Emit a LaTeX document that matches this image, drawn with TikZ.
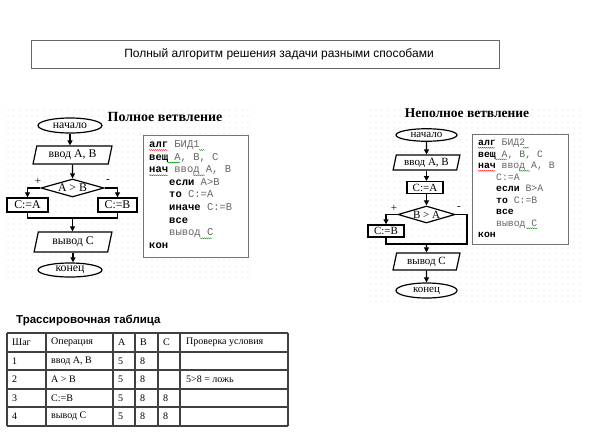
\documentclass[tikz,border=0pt]{standalone}
\usepackage{fontspec}
\setmainfont{Liberation Serif}
\setsansfont{Liberation Sans}
\setmonofont{Liberation Mono}
\usetikzlibrary{shapes.geometric,arrows.meta,decorations.pathmorphing}
\newcommand{\kwd}[1]{\textbf{#1}}
\newcommand{\grt}[1]{\textcolor{black!60}{#1}}
\begin{document}
\begin{tikzpicture}[x=1pt,y=-1pt,
  fl/.style={line width=1.1pt},
  arr/.style={line width=1.1pt,-{Triangle[length=5pt,width=5pt]}},
  term/.style={ellipse,draw,line width=1.2pt,fill=white,inner sep=0pt},
  io/.style={trapezium,trapezium left angle=76,trapezium right angle=104,trapezium stretches=true,draw,line width=1.2pt,fill=white,inner sep=0pt},
  proc/.style={rectangle,draw,line width=1.4pt,fill=white,inner sep=0pt},
  cond/.style={diamond,shape aspect=3.5,draw,line width=1.2pt,fill=white,inner sep=0pt},
  fc1/.style={font=\fontsize{11.8}{13}\selectfont},
  fc2/.style={font=\fontsize{11}{12}\selectfont},
  sign/.style={font=\fontsize{11}{12}\selectfont,inner sep=0pt},
  codebox/.style={rectangle,draw=black!55,line width=0.8pt,fill=white,inner sep=0pt},
  codeA/.style={anchor=base west,inner sep=0pt,font=\ttfamily\fontsize{10.5}{12}\selectfont},
  codeB/.style={anchor=base west,inner sep=0pt,font=\ttfamily\fontsize{9.8}{11}\selectfont},
  sq/.style={decorate,decoration={snake,amplitude=0.5pt,segment length=2pt},line width=0.4pt},
  tline/.style={line width=1.3pt,draw=black!75},
  tcell/.style={anchor=west,inner sep=0pt,font=\fontsize{10}{12}\selectfont},
  dotc/.style={fill=black!40}
]
\useasboundingbox (0,0) rectangle (593,445);
\fill[white] (0,0) rectangle (593,445);

% title
\node (titlebox) [rectangle,draw=black!60,line width=0.8pt,minimum width=468pt,minimum height=28pt,inner sep=0pt] at (265,54) {};
\node (title) [inner sep=0pt,font=\sffamily\fontsize{12}{14}\selectfont] at (279,54) {Полный алгоритм решения задачи разными способами};

% dotted backgrounds
\foreach \xx in {8,14,...,248} \foreach \yy in {110,116,...,282} \fill[dotc] (\xx,\yy) circle (0.45pt);
\foreach \xx in {370,376,...,582} \foreach \yy in {110,116,...,302} \fill[dotc] (\xx,\yy) circle (0.45pt);

% ---------- left diagram ----------
\node (h1) [font=\bfseries\fontsize{14}{16}\selectfont,inner sep=0pt] at (165,117) {Полное ветвление};

\node (s1) [term,fc1,minimum width=64pt,minimum height=15pt] at (70,125.5) {начало};
\node (in1) [io,fc1,minimum width=79pt,minimum height=18pt] at (72.5,155) {ввод А, В};
\node (d1) [cond,fc1,minimum width=63pt,minimum height=18pt] at (72.5,188) {А > В};
\node (ca1) [proc,fc1,minimum width=41pt,minimum height=14pt] at (27.5,205) {С:=А};
\node (cb1) [proc,fc1,minimum width=39pt,minimum height=14pt] at (117.5,205) {С:=В};
\node (o1) [io,fc1,minimum width=78pt,minimum height=20pt] at (73,242) {вывод С};
\node (e1) [term,fc1,minimum width=64pt,minimum height=14pt] at (70,270) {конец};
\coordinate (j1) at (72.5,218);
\node (p1) [sign] at (38,181) {+};
\node (m1) [sign] at (108,181) {-};

\draw[arr] (s1) -- (s1|-in1.north);
\draw[arr] (in1.south) -- (d1.north);
\draw[arr] (d1.west) -| (ca1.north);
\draw[arr] (d1.east) -| (cb1.north);
\draw[fl] (ca1.south) |- (j1) -| (cb1.south);
\draw[arr] (j1) -- (j1|-o1.north);
\draw[arr] (o1.south) -- (o1.south|-e1.north);

% left code box
\node (cb1box) [codebox,minimum width=105pt,minimum height=122pt] at (195.5,196) {};
\node (a1) [codeA] at (149,147.5) {\kwd{алг} \grt{БИД1}};
\node (a2) [codeA] at (149,160.1) {\kwd{вещ} \grt{А, В, С}};
\node (a3) [codeA] at (149,172.7) {\kwd{нач} \grt{ввод А, В}};
\node (a4) [codeA] at (169,185.3) {\kwd{если} \grt{А>В}};
\node (a5) [codeA] at (169,197.9) {\kwd{то} \grt{С:=А}};
\node (a6) [codeA] at (169,210.5) {\kwd{иначе} \grt{С:=В}};
\node (a7) [codeA] at (169,223.1) {\kwd{все}};
\node (a8) [codeA] at (169,235.7) {\grt{вывод С}};
\node (a9) [codeA] at (149,248.3) {\kwd{кон}};
\draw[sq,red] (149,150) -- (168,150);
\draw[sq,red] (149,175.2) -- (168,175.2);
\draw[sq,green!60!black] (199,150) -- (205,150);
\draw[sq,green!60!black] (168,162.6) -- (180,162.6);
\draw[sq,green!60!black] (193,175.2) -- (205,175.2);
\draw[sq,green!60!black] (200,238.2) -- (212,238.2);

% ---------- right diagram ----------
\node (h2) [font=\bfseries\fontsize{13.5}{15}\selectfont,inner sep=0pt] at (467,113) {Неполное ветвление};

\node (s2) [term,fc2,minimum width=61pt,minimum height=12.5pt] at (426.5,135) {начало};
\node (in2) [io,fc2,minimum width=67pt,minimum height=15pt] at (426.5,162.5) {ввод А, В};
\node (ca2) [proc,fc2,minimum width=36pt,minimum height=11.5pt] at (425,187.5) {С:=А};
\node (d2) [cond,fc2,minimum width=57pt,minimum height=17pt] at (426.5,214.5) {В > А};
\node (cb2) [proc,fc2,minimum width=36pt,minimum height=12pt] at (386,231) {С:=В};
\node (o2) [io,fc2,minimum width=67pt,minimum height=17pt] at (426.5,261.5) {вывод С};
\node (e2) [term,fc2,minimum width=61pt,minimum height=15pt] at (426.5,290.5) {конец};
\coordinate (j2) at (426.5,244);
\coordinate (r2) at (467,244);
\node (p2) [sign] at (394,208) {+};
\node (m2) [sign] at (459,208) {-};

\draw[arr] (s2.south) -- (in2.north);
\draw[arr] (in2.south) -- (in2.south|-ca2.north);
\draw[arr] (ca2.south-|d2.north) -- (d2.north);
\draw[arr] (d2.west) -| (cb2.north);
\draw[fl] (d2.east) -| (r2) -- (cb2.south|-r2) -- (cb2.south);
\draw[arr] (j2) -- (o2.north);
\draw[arr] (o2.south) -- (e2.north);

% right code box
\node (cb2box) [codebox,minimum width=96pt,minimum height=110pt] at (520,189) {};
\node (b1) [codeB] at (478,145.5) {\kwd{алг} \grt{БИД2}};
\node (b2) [codeB] at (478,157) {\kwd{вещ} \grt{А, В, С}};
\node (b3) [codeB] at (478,168.5) {\kwd{нач} \grt{ввод А, В}};
\node (b4) [codeB] at (496,180) {\grt{С:=А}};
\node (b5) [codeB] at (496,191.5) {\kwd{если} \grt{В>А}};
\node (b6) [codeB] at (496,203) {\kwd{то} \grt{С:=В}};
\node (b7) [codeB] at (496,214.5) {\kwd{все}};
\node (b8) [codeB] at (496,226) {\grt{вывод С}};
\node (b9) [codeB] at (478,237.5) {\kwd{кон}};
\draw[sq,red] (478,147.8) -- (495,147.8);
\draw[sq,red] (478,170.8) -- (495,170.8);
\draw[sq,green!60!black] (523,147.8) -- (529,147.8);
\draw[sq,green!60!black] (495,159.3) -- (507,159.3);
\draw[sq,green!60!black] (519,170.8) -- (530,170.8);
\draw[sq,green!60!black] (526,228.3) -- (537,228.3);

% ---------- table ----------
\node (th) [anchor=west,inner sep=0pt,font=\sffamily\bfseries\fontsize{11.5}{13}\selectfont] at (16,320) {Трассировочная таблица};
\foreach \yy in {333,352,370,389,407,426} \draw[tline] (7,\yy) -- (288,\yy);
\foreach \xx in {7,46,113,135,158,180,288} \draw[tline] (\xx,333) -- (\xx,426);

\foreach \r/\yy/\a/\b/\c/\d/\e/\f in {
  0/342.5/Шаг/Операция/А/В/С/Проверка условия,
  1/361/1/ввод А{,} В/5/8//,
  2/379.5/2/А > В/5/8//5>8 = ложь,
  3/398/3/С:=В/5/8/8/,
  4/416.5/4/вывод С/5/8/8/}{
  \node (t\r a) [tcell] at (12,\yy) {\a};
  \node (t\r b) [tcell] at (51,\yy) {\b};
  \node (t\r c) [tcell] at (118,\yy) {\c};
  \node (t\r d) [tcell] at (140,\yy) {\d};
  \node (t\r e) [tcell] at (163,\yy) {\e};
  \node (t\r f) [tcell] at (186,\yy) {\f};
}
\end{tikzpicture}
\end{document}
